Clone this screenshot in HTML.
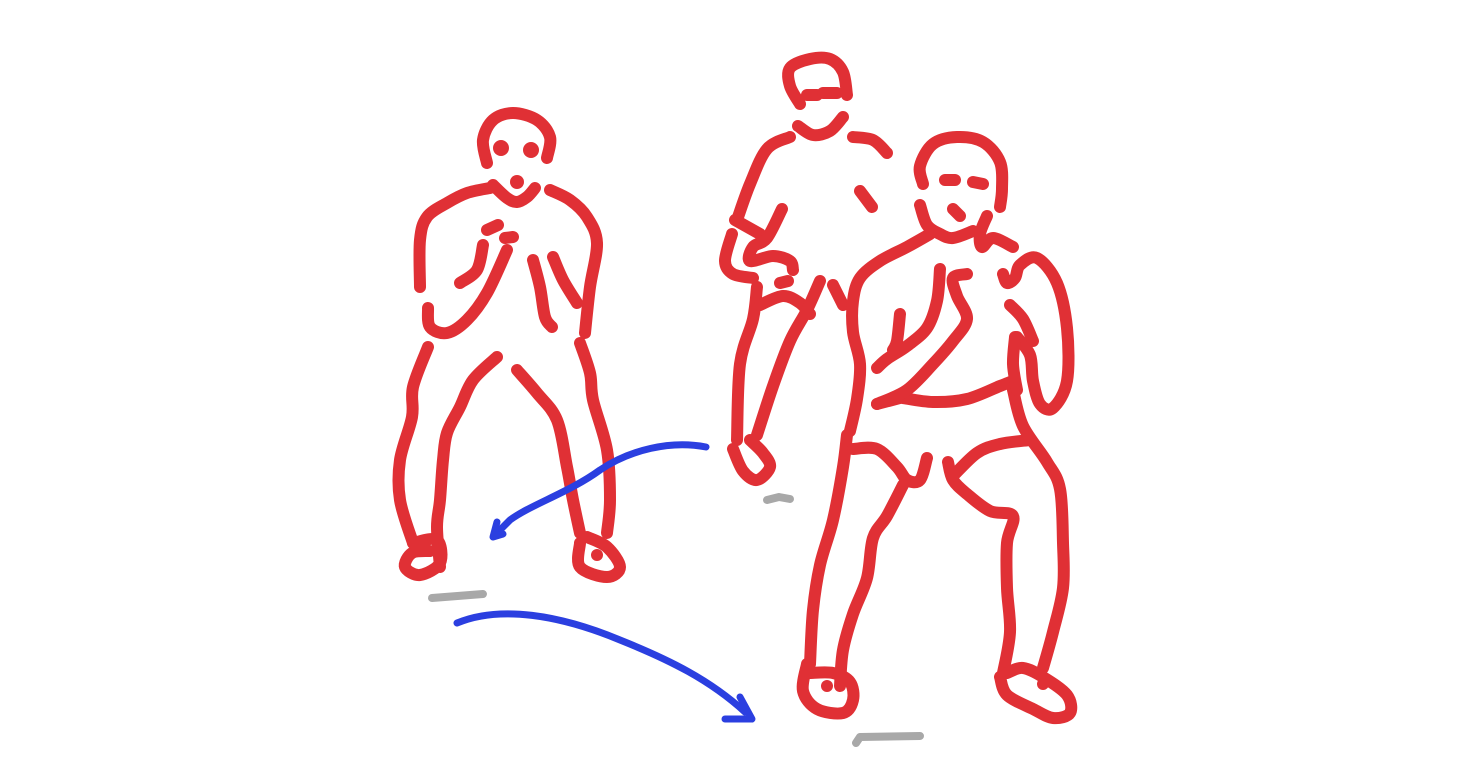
<!DOCTYPE html>
<html><head><meta charset="utf-8"><style>
html,body{margin:0;padding:0;background:#fff;width:1467px;height:768px;overflow:hidden}
svg{display:block}
.r{fill:none;stroke:#e03035;stroke-width:12;stroke-linecap:round;stroke-linejoin:round}
.b{fill:none;stroke:#2b3fe0;stroke-width:7;stroke-linecap:round;stroke-linejoin:round}
.g{fill:none;stroke:#a8a8a8;stroke-width:8;stroke-linecap:round;stroke-linejoin:round}
.d{fill:#e03035}
</style></head><body>
<svg id="cv" width="1467" height="768" viewBox="0 0 1467 768">
<g>
<polyline class="r" points="487,163 483,140 493,120 513,113 537,120 550,137 547,158"/>
<circle class="d" cx="501" cy="148" r="8"/><circle class="d" cx="531" cy="150" r="8"/>
<circle class="d" cx="517" cy="182" r="7"/>
<polyline class="r" points="493,185 507,198 517,202 527,197 535,188"/>
<polyline class="r" points="490,188 467,193 447,203 427,217 420,240 420,287"/>
<polyline class="r" points="550,190 570,200 587,217 597,243 590,287 585,333"/>
<polyline class="r" points="487,230 498,225"/><polyline class="r" points="505,238 513,237"/>
<polyline class="r" points="483,245 477,270 460,283"/>
<polyline class="r" points="507,250 487,293 467,320 447,333 430,327 428,308"/>
<polyline class="r" points="533,260 540,287 545,317 552,327"/>
<polyline class="r" points="553,257 563,280 577,303"/>
<polyline class="r" points="428,347 413,387 412,417 400,460 400,500 413,543"/>
<polyline class="r" points="497,357 473,380 460,407 447,433 443,460 440,500 437,527 440,567"/>
<polyline class="r" points="413,543 437,540 440,563 420,575 405,567 412,553 430,551"/>
<polyline class="r" points="517,370 537,393 557,420 567,467 573,500 580,533"/>
<polyline class="r" points="580,343 590,373 593,400 607,450 610,500 607,533"/>
<polyline class="r" points="580,543 580,567 607,577 620,567 607,547 587,537"/>
<circle class="d" cx="597" cy="555" r="6"/>
</g>
<g>
<polyline class="r" points="800,104 790,86 790,68 810,59 830,59 843,72 847,95"/>
<polyline class="r" points="807,95 817,95"/><polyline class="r" points="823,93 837,93"/>
<polyline class="r" points="798,126 813,135 830,131 843,117"/>
<polyline class="r" points="790,137 767,149 750,184 737,220"/>
<polyline class="r" points="853,137 873,140 887,153"/>
<polyline class="r" points="860,191 872,207"/>
<polyline class="r" points="735,220 760,234"/>
<polyline class="r" points="732,234 725,261 733,274 753,278"/>
<polyline class="r" points="782,209 767,238 753,247 750,261 773,256 790,261 793,270"/>
<polyline class="r" points="780,283 788,281"/>
<polyline class="r" points="757,287 753,319 740,364 737,440"/>
<polyline class="r" points="760,305 783,296 800,303 810,314"/>
<polyline class="r" points="820,281 807,310 790,341 773,386 757,435"/>
<polyline class="r" points="833,285 843,305"/>
<polyline class="r" points="733,449 743,471 757,480 770,467 763,453 750,440"/>
</g>
<g>
<polyline class="r" points="923,184 920,166 933,144 957,137 983,142 1000,162 1002,189 1000,207"/>
<polyline class="r" points="945,180 955,180"/><polyline class="r" points="973,182 983,184"/>
<polyline class="r" points="953,209 960,216"/>
<polyline class="r" points="920,205 927,225 940,234 953,238 973,231"/>
<polyline class="r" points="987,216 980,234 982,247 993,238 1013,247"/>
<polyline class="r" points="930,234 907,247 880,261 860,278 853,301 853,332 860,364 857,399 850,431"/>
<polyline class="r" points="847,435 843,467 833,520 820,565 813,610 810,664"/>
<polyline class="r" points="853,449 877,449 897,467 907,480 920,480 927,458"/>
<polyline class="r" points="903,485 887,516 873,538 867,578 853,614 843,650 840,686"/>
<polyline class="r" points="807,664 803,691 817,709 843,713 853,700 850,682 833,673 810,673"/>
<circle class="d" cx="827" cy="686" r="6"/>
<polyline class="r" points="948,462 953,480 967,494 990,511 1013,516 1007,543 1007,588 1010,632 1003,673"/>
<polyline class="r" points="953,476 977,453 1000,444 1030,440"/>
<polyline class="r" points="1013,390 1023,426 1047,462 1060,489 1063,543 1063,588 1053,632 1043,668"/>
<polyline class="r" points="1000,677 1007,695 1033,709 1053,718 1070,713 1067,695 1043,677 1023,668 1007,673"/>
<circle class="d" cx="1043" cy="684" r="6"/>
<polyline class="r" points="877,404 900,398"/>
<polyline class="r" points="903,398 933,402 967,399 1000,386 1013,381"/>
<polyline class="r" points="940,269 937,301 927,328 907,346 887,359 877,368"/>
<polyline class="r" points="900,314 897,341 893,350"/>
<polyline class="r" points="967,274 953,278 957,296 967,319 953,341 933,364 907,390 877,404"/>
<polyline class="r" points="1003,274 1007,283 1015,278 1020,265 1037,258 1057,283 1067,328 1067,381 1053,408 1040,404 1033,381 1030,355 1017,337"/>
<polyline class="r" points="1010,305 1023,319 1033,341"/>
<polyline class="r" points="1015,337 1013,364 1017,390"/>
</g>
<g>
<path class="b" d="M706,447 C670,440 630,450 600,470 C570,492 530,505 510,520 L497,533"/>
<path class="b" d="M497,522 L493,537 L503,534"/>
<path class="b" d="M457,623 C500,605 560,615 620,640 C670,660 710,680 745,712"/>
<path class="b" d="M740,697 L752,719 L725,719"/>
</g>
<g>
<polyline class="g" points="432,598 483,594"/>
<polyline class="g" points="767,500 779,497 790,499"/>
<polyline class="g" points="856,743 860,737 920,736"/>
</g>
</svg>
<script>
document.querySelectorAll('polyline.r').forEach(function(pl){
  var pts=pl.getAttribute('points').trim().split(/\s+/).map(function(s){return s.split(',').map(Number);});
  if(pts.length<3)return;
  var d='M'+pts[0][0]+','+pts[0][1];
  for(var i=0;i<pts.length-1;i++){
    var p0=pts[i-1]||pts[i],p1=pts[i],p2=pts[i+1],p3=pts[i+2]||p2;
    var c1x=p1[0]+(p2[0]-p0[0])/6,c1y=p1[1]+(p2[1]-p0[1])/6;
    var c2x=p2[0]-(p3[0]-p1[0])/6,c2y=p2[1]-(p3[1]-p1[1])/6;
    d+=' C'+c1x.toFixed(1)+','+c1y.toFixed(1)+' '+c2x.toFixed(1)+','+c2y.toFixed(1)+' '+p2[0]+','+p2[1];
  }
  var p=document.createElementNS('http://www.w3.org/2000/svg','path');
  p.setAttribute('d',d);p.setAttribute('class','r');
  
  
  pl.parentNode.replaceChild(p,pl);
});
</script>
</body></html>
